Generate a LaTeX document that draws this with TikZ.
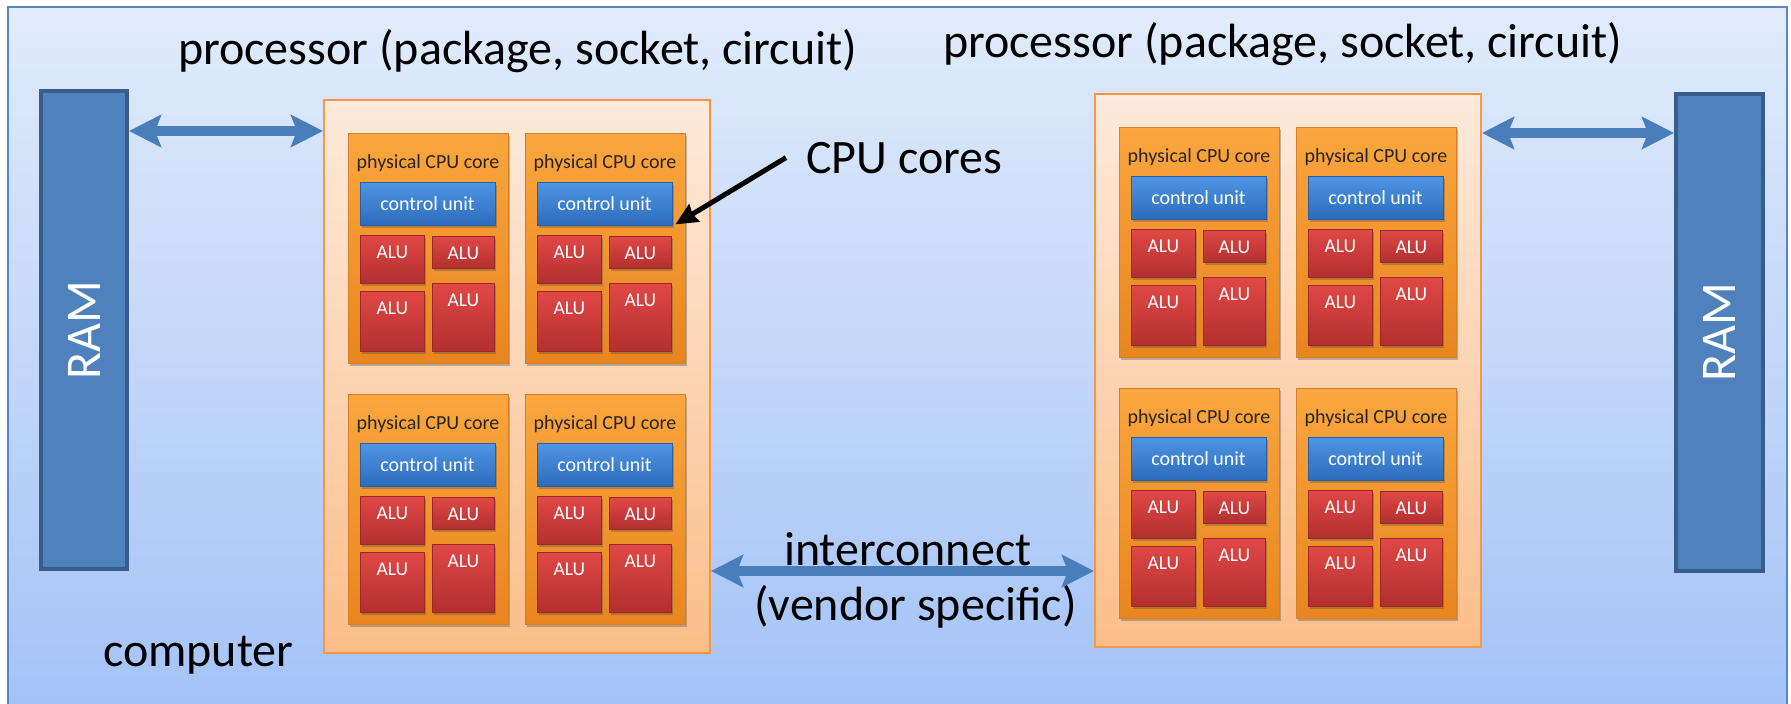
\documentclass[tikz,border=0pt]{standalone}
\usepackage{fontspec}
\setmainfont{Carlito}
\usetikzlibrary{arrows.meta,shadows,calc}
\definecolor{bgtop}{RGB}{225,235,251}
\definecolor{bgbot}{RGB}{164,195,247}
\definecolor{framebd}{RGB}{88,133,196}
\definecolor{ramfill}{RGB}{79,129,189}
\definecolor{rambd}{RGB}{56,93,138}
\definecolor{arrowc}{RGB}{74,126,187}
\definecolor{pkgtop}{RGB}{253,234,219}
\definecolor{pkgbot}{RGB}{251,190,138}
\definecolor{pkgbd}{RGB}{247,150,70}
\definecolor{coretop}{RGB}{251,166,62}
\definecolor{corebot}{RGB}{232,133,30}
\definecolor{corebd}{RGB}{214,128,44}
\definecolor{cutop}{RGB}{78,150,228}
\definecolor{cubot}{RGB}{44,108,186}
\definecolor{cubd}{RGB}{40,96,165}
\definecolor{alutop}{RGB}{224,72,70}
\definecolor{alubot}{RGB}{178,47,47}
\definecolor{alubd}{RGB}{155,40,40}
\tikzset{
  bigtext/.style={font=\fontsize{48}{56}\selectfont, inner sep=0pt, anchor=base west, text=black},
  pkg/.style={draw=pkgbd, line width=2pt, top color=pkgtop, bottom color=pkgbot,
    anchor=north west, inner sep=0pt, minimum width=386pt, minimum height=553pt},
  ram/.style={draw=rambd, line width=4pt, fill=ramfill, anchor=north west,
    inner sep=0pt, minimum width=86pt, minimum height=478pt},
  ramtxt/.style={font=\fontsize{50}{56}\selectfont, text=white, rotate=90, inner sep=0pt},
  boxshadow/.style={drop shadow={shadow xshift=1.5pt, shadow yshift=-2.5pt, opacity=0.35, fill=black!70}},
  core/.style={draw=corebd, line width=1pt, top color=coretop, bottom color=corebot,
    anchor=north west, inner sep=0pt, minimum width=160pt, minimum height=230pt, boxshadow},
  coretitle/.style={font=\fontsize{20}{24}\selectfont, text=black!85, anchor=base, inner sep=0pt},
  ctrl/.style={draw=cubd, line width=0.8pt, top color=cutop, bottom color=cubot,
    inner sep=0pt, minimum width=135pt, minimum height=43pt, boxshadow,
    font=\fontsize{20}{24}\selectfont, text=white},
  alu/.style={draw=alubd, line width=0.8pt, top color=alutop, bottom color=alubot,
    anchor=north west, inner sep=0pt, boxshadow},
  alutxt/.style={font=\fontsize{19.5}{24}\selectfont, text=white, anchor=base, inner sep=0pt},
  bigarrow/.style={draw=arrowc, line width=10pt,
    {Stealth[length=32pt,width=32pt,inset=6pt]}-{Stealth[length=32pt,width=32pt,inset=6pt]}},
  ptr/.style={draw=black, line width=5pt, -{Stealth[length=22pt,width=20pt,inset=2pt]}}
}
\newcommand{\cpucore}[3]{%
  \begin{scope}[shift={(#2,#3)}]
    \node[core] (#1) at (0,0) {};
    \node[coretitle] (#1-t) at (80,35) {physical CPU core};
    \node[ctrl] (#1-cu) at (79.5,70.5) {control unit};
    \node[alu, minimum width=64pt, minimum height=48pt] (#1-a1) at (12,102) {};
    \node[alu, minimum width=62pt, minimum height=32pt] (#1-a2) at (84,103) {};
    \node[alu, minimum width=64pt, minimum height=60pt] (#1-a3) at (12,158) {};
    \node[alu, minimum width=62pt, minimum height=68pt] (#1-a4) at (84,150) {};
    \node[alutxt] (#1-a1t) at ([yshift=-23pt]#1-a1.north) {ALU};
    \node[alutxt] (#1-a2t) at ([yshift=-23pt]#1-a2.north) {ALU};
    \node[alutxt] (#1-a3t) at ([yshift=-23pt]#1-a3.north) {ALU};
    \node[alutxt] (#1-a4t) at ([yshift=-23pt]#1-a4.north) {ALU};
  \end{scope}}
\begin{document}
\begin{tikzpicture}[x=1pt,y=-1pt]
  \useasboundingbox (0,0) rectangle (1791,704);
  % computer frame
  \fill[top color=bgtop, bottom color=bgbot] (8,7) rectangle (1787,704);
  \draw[framebd, line width=1.5pt] (8,704) -- (8,7) -- (1787,7) -- (1787,704);
  % RAM
  \node[ram] (ramL) at (39,89) {};
  \node[ramtxt] (ramLt) at (ramL.center) {RAM};
  \node[ram, minimum width=87pt, minimum height=477pt] (ramR) at (1674,92) {};
  \node[ramtxt] (ramRt) at (ramR.center) {RAM};
  % packages
  \node[pkg] (pkgL) at (323,99) {};
  \node[pkg] (pkgR) at (1094,93) {};
  % cores
  \cpucore{c1}{348}{133}
  \cpucore{c2}{525}{133}
  \cpucore{c3}{348}{394}
  \cpucore{c4}{525}{394}
  \cpucore{c5}{1119}{127}
  \cpucore{c6}{1296}{127}
  \cpucore{c7}{1119}{388}
  \cpucore{c8}{1296}{388}
  % labels
  \node[bigtext] (procL) at (178,64) {processor (package, socket, circuit)};
  \node[bigtext] (procR) at (943,57) {processor (package, socket, circuit)};
  \node[bigtext] (cpuc) at (806,173) {CPU cores};
  \node[bigtext] (comp) at (103,666) {computer};
  \node[bigtext] (inter) at (784,565) {interconnect};
  \node[bigtext] (vend) at (754,620) {(vendor specific)};
  % arrows
  \coordinate (yL) at (0,131);
  \coordinate (yR) at (0,133);
  \coordinate (yI) at (0,571);
  \draw[bigarrow] (ramL.east |- yL) -- (pkgL.west |- yL);
  \draw[bigarrow] (pkgR.east |- yR) -- (ramR.west |- yR);
  \draw[bigarrow] (pkgL.east |- yI) -- (pkgR.west |- yI);
  \draw[ptr] ([xshift=-20pt]cpuc.west) -- ([shift={(3pt,1pt)}]c2-cu.south east);
\end{tikzpicture}
\end{document}
